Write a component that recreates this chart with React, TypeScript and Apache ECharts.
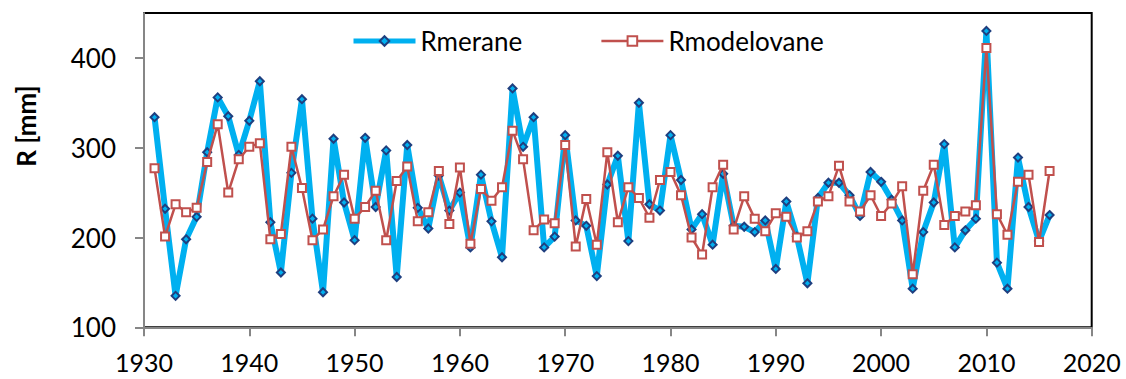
import React, { useEffect, useRef } from "react";
import * as echarts from "echarts";

const years = [
  1931, 1932, 1933, 1934, 1935, 1936, 1937, 1938, 1939, 1940,
  1941, 1942, 1943, 1944, 1945, 1946, 1947, 1948, 1949, 1950,
  1951, 1952, 1953, 1954, 1955, 1956, 1957, 1958, 1959, 1960,
  1961, 1962, 1963, 1964, 1965, 1966, 1967, 1968, 1969, 1970,
  1971, 1972, 1973, 1974, 1975, 1976, 1977, 1978, 1979, 1980,
  1981, 1982, 1983, 1984, 1985, 1986, 1987, 1988, 1989, 1990,
  1991, 1992, 1993, 1994, 1995, 1996, 1997, 1998, 1999, 2000,
  2001, 2002, 2003, 2004, 2005, 2006, 2007, 2008, 2009, 2010,
  2011, 2012, 2013, 2014, 2015, 2016,
];

const rMerane = [
  334, 232, 135, 198, 223, 295, 356, 335, 292, 330,
  374, 217, 161, 272, 354, 221, 139, 310, 239, 197,
  311, 234, 297, 156, 303, 233, 210, 269, 230, 250,
  189, 270, 218, 178, 366, 301, 334, 189, 201, 314,
  219, 213, 157, 259, 291, 196, 350, 237, 230, 314,
  264, 209, 226, 192, 271, 213, 212, 206, 219, 165,
  240, 201, 149, 244, 261, 261, 247, 224, 273, 262,
  242, 219, 143, 206, 239, 304, 189, 208, 221, 430,
  172, 143, 289, 234, 196, 225,
];

const rModelovane = [
  277, 201, 237, 228, 233, 284, 326, 250, 287, 301,
  305, 198, 204, 301, 255, 197, 209, 246, 270, 221,
  234, 252, 197, 263, 279, 218, 228, 274, 215, 278,
  193, 254, 241, 256, 319, 287, 208, 220, 216, 303,
  190, 243, 192, 295, 217, 256, 244, 222, 264, 273,
  247, 200, 181, 256, 281, 209, 246, 221, 207, 227,
  223, 200, 207, 240, 246, 280, 240, 229, 247, 224,
  238, 257, 159, 252, 281, 214, 224, 229, 236, 411,
  226, 203, 262, 270, 195, 274,
];

const yTicks = [100, 200, 300, 400];
const seriesNames = ["Rmerane", "Rmodelovane"];
const yTitle = "R [mm]";

const FONT = "Lato";

export default function App() {
  const ref = useRef<HTMLDivElement>(null);
  useEffect(() => {
    if (!ref.current) return;
    const chart = echarts.init(ref.current, null, { renderer: "svg" });
    chart.setOption({
      animation: false,
      backgroundColor: "#ffffff",
      textStyle: { fontFamily: FONT },
      grid: {
        left: 144,
        right: 34.3,
        top: 13,
        bottom: 51.7,
        show: true,
        borderColor: "#000000",
        borderWidth: 2,
        backgroundColor: "transparent",
      },
      legend: {
        left: 346,
        top: 23,
        itemWidth: 62,
        itemHeight: 12,
        itemGap: 78,
        textStyle: { fontSize: 26, fontFamily: FONT, color: "#000" },
        data: [
          { name: seriesNames[0], lineStyle: { width: 5, color: "#00B0F0" } },
          { name: seriesNames[1], lineStyle: { width: 2.5, color: "#C0504D" } },
        ],
      },
      graphic: [
        {
          type: "text",
          x: 26,
          y: 126,
          rotation: Math.PI / 2,
          style: {
            text: yTitle,
            font: `bold 26px ${FONT}`,
            fill: "#000",
            textAlign: "center",
            textVerticalAlign: "middle",
          },
        },
      ],
      xAxis: {
        type: "value",
        min: 1930,
        max: 2020,
        interval: 10,
        axisLine: { show: true, lineStyle: { color: "#868686", width: 2 } },
        axisTick: { show: true, length: 9, lineStyle: { color: "#868686", width: 2 } },
        axisLabel: {
          fontSize: 25,
          lineHeight: 22,
          fontFamily: FONT,
          color: "#000",
          margin: 24,
          formatter: (v: number) => String(v),
        },
        splitLine: { show: false },
      },
      yAxis: {
        type: "value",
        min: 100,
        max: 450,
        interval: 100,
        axisLine: { show: true, lineStyle: { color: "#868686", width: 2 } },
        axisTick: {
          show: true,
          length: 9,
          customValues: yTicks,
          lineStyle: { color: "#868686", width: 2 },
        },
        axisLabel: {
          fontSize: 26,
          fontFamily: FONT,
          color: "#000",
          margin: 28,
          customValues: yTicks,
        },
        splitLine: { show: false },
      },
      series: [
        {
          name: seriesNames[0],
          type: "line",
          data: years.map((y, i) => [y, rMerane[i]]),
          symbol: "diamond",
          symbolSize: 8,
          lineStyle: { color: "#00B0F0", width: 6 },
          itemStyle: { color: "#00B0F0", borderColor: "#1F3F7F", borderWidth: 2 },
          z: 2,
        },
        {
          name: seriesNames[1],
          type: "line",
          data: years.map((y, i) => [y, rModelovane[i]]),
          symbol: "rect",
          symbolSize: 8,
          lineStyle: { color: "#C0504D", width: 2.5 },
          itemStyle: { color: "#ffffff", borderColor: "#C0504D", borderWidth: 2 },
          z: 3,
        },
      ],
    });
    return () => chart.dispose();
  }, []);
  return <div ref={ref} style={{ width: 1126, height: 379, position: "absolute", left: 0, top: 0 }} />;
}
